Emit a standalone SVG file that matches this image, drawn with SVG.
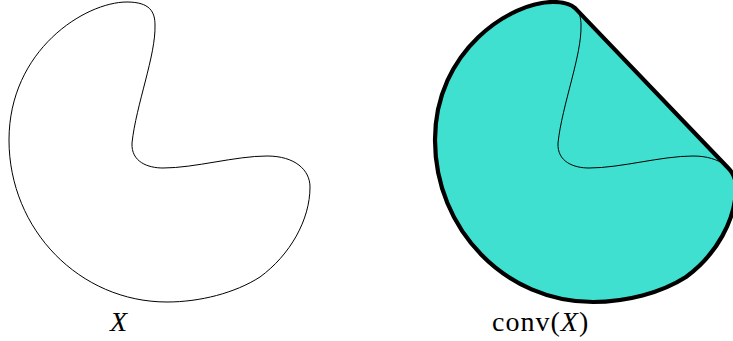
<svg xmlns="http://www.w3.org/2000/svg" width="733" height="341" viewBox="0 0 733 341">
<style>
.thin{fill:none;stroke:#000;stroke-width:1}
.hull{fill:#40E0D0;stroke:none}
.hullstroke{fill:none;stroke:#000;stroke-width:4.2;stroke-linejoin:round}
.lbl{font-family:"Liberation Serif","Times New Roman",serif;font-size:28px;fill:#000}
</style>
<defs>
<path id="shape" d="M127,2 C150,2 155,12 155,25 C156,55 136,105 132,143 C131,162 148,168 163,168 C195,168 235,156 267,156 C295,156 310,170 310,187 C310,220 290,255 260,277 C235,293 200,302 167,302 C80,302 9,230 9,140 C9,50 85,2 127,2 Z"/>
<path id="hullp" d="M149.6,8.6 C145.5,4.5 138.5,2 127,2 C85,2 9,50 9,140 C9,230 80,302 167,302 C200,302 235,293 260,277 C290,255 310,220 310,187 C310,179.74 307.27,173.03 301.95,167.72 Z"/>
</defs>
<g id="setX">
<use href="#shape" class="thin"/>
<text class="lbl" x="110" y="331" font-style="italic">X</text>
</g>
<g id="convX">
<g transform="translate(426,0)">
<use href="#hullp" class="hull"/>
<use href="#shape" class="thin"/>
<use href="#hullp" class="hullstroke"/>
</g>
<text class="lbl" x="492" y="331" letter-spacing="1">conv(<tspan font-style="italic">X</tspan>)</text>
</g>
<g id="connectors"/>
</svg>
